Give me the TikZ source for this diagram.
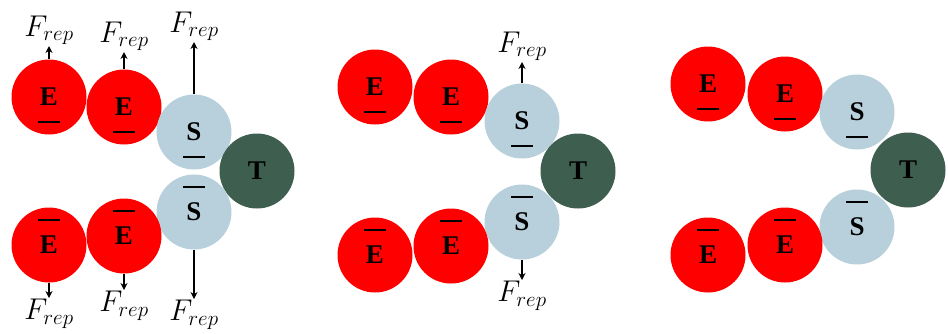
\RequirePackage{fix-cm}
\documentclass[tikz,border=0pt]{standalone}
\usepackage{fontspec}
\newfontfamily\ballfont{Liberation Serif}
\usetikzlibrary{arrows.meta}
\definecolor{sblue}{RGB}{184,208,220}
\definecolor{tgreen}{RGB}{62,94,80}
\newcommand\barbelow[1]{\draw[barline] ([shift={(-11,25)}]#1.center) -- ([shift={(11,25)}]#1.center);}
\newcommand\barabove[1]{\draw[barline] ([shift={(-11,-25)}]#1.center) -- ([shift={(11,-25)}]#1.center);}
\begin{document}
\begin{tikzpicture}[x=1pt,y=-1pt,
  orb/.style={circle,minimum size=75pt,inner sep=0pt,font=\ballfont\bfseries\fontsize{27}{30}\selectfont},
  eorb/.style={orb,fill=red},
  sorb/.style={orb,fill=sblue},
  torb/.style={orb,fill=tgreen},
  force/.style={line width=1.6pt,-{Stealth[length=7pt,width=7pt]}},
  flab/.style={font=\fontsize{30}{34}\selectfont,inner sep=1pt},
  barline/.style={line width=1.8pt}]
\useasboundingbox (0,0) rectangle (948,333);
% ---------- panel 1 ----------
\node[eorb] (p1e1t) at (49,97) {E};
\node[eorb] (p1e2t) at (124,107) {E};
\node[sorb] (p1st) at (194,132) {S};
\node[torb] (p1t) at (257,171) {T};
\node[sorb] (p1sb) at (194,212) {S};
\node[eorb] (p1e2b) at (124,236) {E};
\node[eorb] (p1e1b) at (49,245) {E};
\barbelow{p1e1t}\barbelow{p1e2t}\barbelow{p1st}
\barabove{p1e1b}\barabove{p1e2b}\barabove{p1sb}
\coordinate (f1a) at (49,46);
\coordinate (f1b) at (124,52);
\coordinate (f1c) at (194,42);
\coordinate (f1d) at (49,298);
\coordinate (f1e) at (124,290);
\coordinate (f1f) at (194,299);
\draw[force] (p1e1t) -- (f1a);
\draw[force] (p1e2t) -- (f1b);
\draw[force] (p1st) -- (f1c);
\draw[force] (p1e1b) -- (f1d);
\draw[force] (p1e2b) -- (f1e);
\draw[force] (p1sb) -- (f1f);
\node[flab,anchor=south] (l1a) at (f1a) {$F_{rep}$};
\node[flab,anchor=south] (l1b) at (f1b) {$F_{rep}$};
\node[flab,anchor=south] (l1c) at (f1c) {$F_{rep}$};
\node[flab,anchor=north] (l1d) at (f1d) {$F_{rep}$};
\node[flab,anchor=north] (l1e) at (f1e) {$F_{rep}$};
\node[flab,anchor=north] (l1f) at (f1f) {$F_{rep}$};
% ---------- panel 2 ----------
\node[eorb] (p2e1t) at (375,87) {E};
\node[eorb] (p2e2t) at (451,97) {E};
\node[sorb] (p2st) at (522,121) {S};
\node[torb] (p2t) at (578,171) {T};
\node[sorb] (p2sb) at (522,222) {S};
\node[eorb] (p2e2b) at (451,246) {E};
\node[eorb] (p2e1b) at (375,255) {E};
\barbelow{p2e1t}\barbelow{p2e2t}\barbelow{p2st}
\barabove{p2e1b}\barabove{p2e2b}\barabove{p2sb}
\coordinate (f2a) at (522,62);
\coordinate (f2b) at (522,280);
\draw[force] (p2st) -- (f2a);
\draw[force] (p2sb) -- (f2b);
\node[flab,anchor=south] (l2a) at (f2a) {$F_{rep}$};
\node[flab,anchor=north] (l2b) at (f2b) {$F_{rep}$};
% ---------- panel 3 ----------
\node[eorb] (p3e1t) at (708,84) {E};
\node[eorb] (p3e2t) at (785,94) {E};
\node[sorb] (p3st) at (857,112) {S};
\node[torb] (p3t) at (908,170) {T};
\node[sorb] (p3sb) at (857,227) {S};
\node[eorb] (p3e2b) at (785,245) {E};
\node[eorb] (p3e1b) at (708,255) {E};
\barbelow{p3e1t}\barbelow{p3e2t}\barbelow{p3st}
\barabove{p3e1b}\barabove{p3e2b}\barabove{p3sb}
\end{tikzpicture}
\end{document}
